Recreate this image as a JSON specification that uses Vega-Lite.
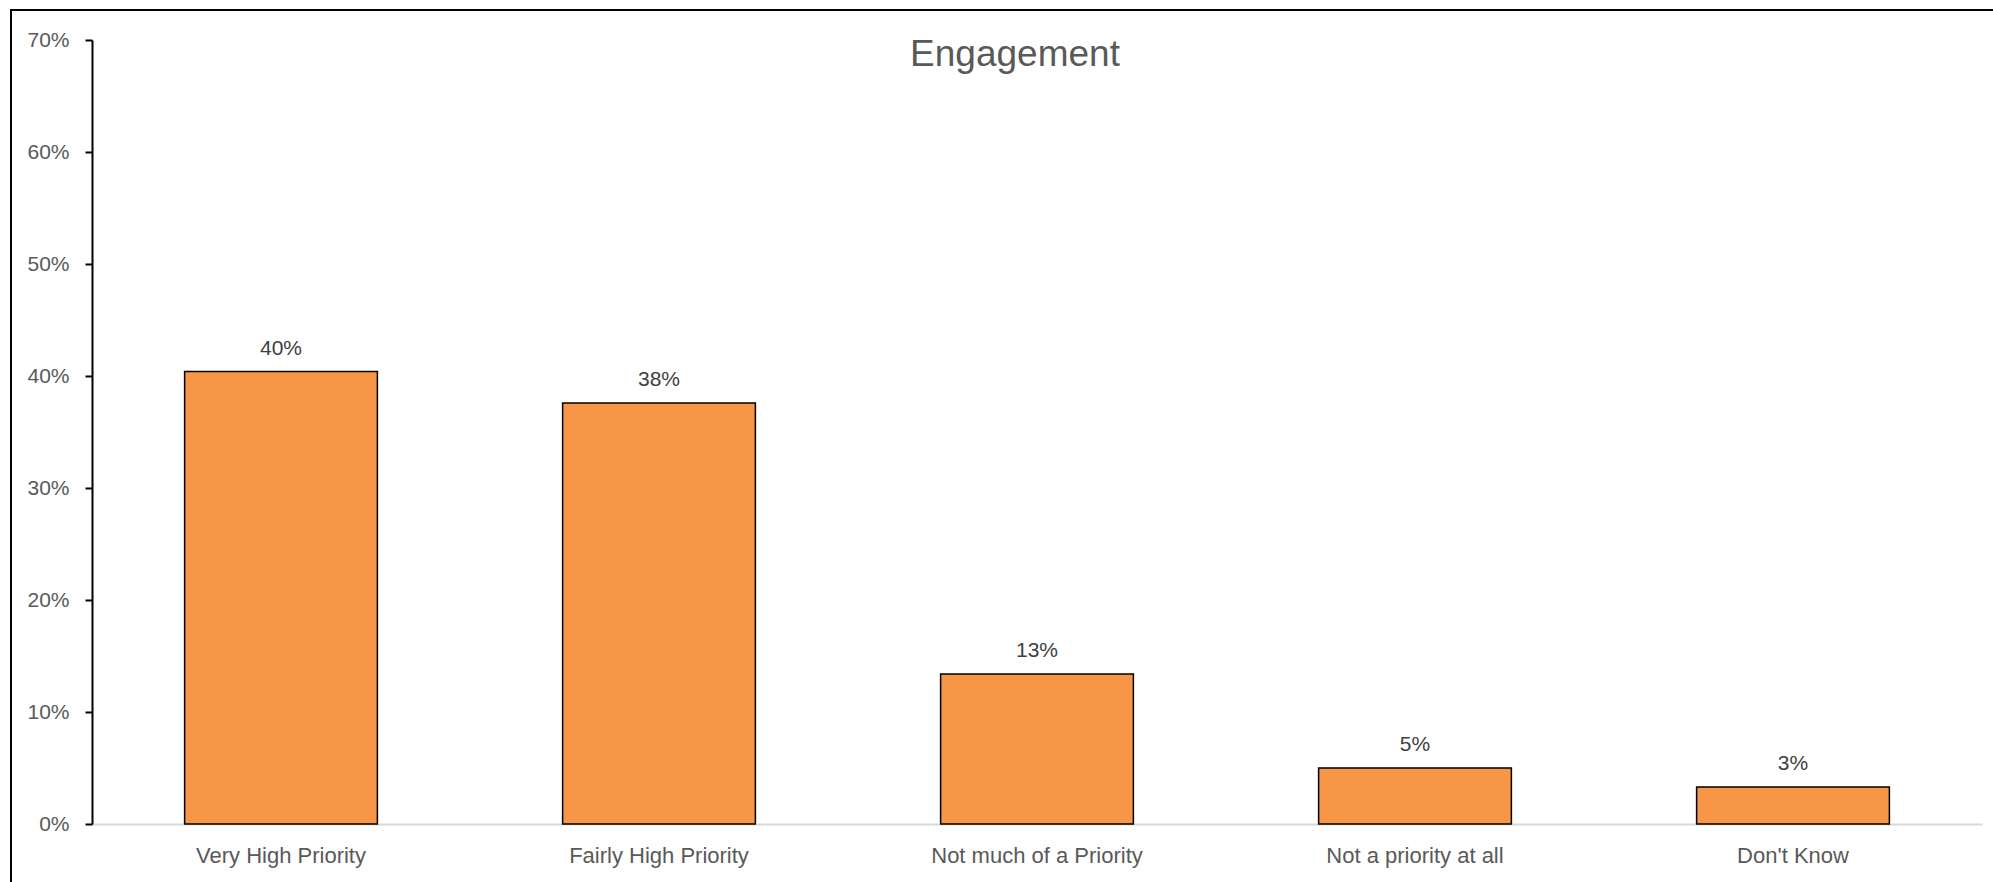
{
  "$schema": "https://vega.github.io/schema/vega-lite/v6.json",
  "autosize": "none",
  "padding": {"left": 11, "top": 10, "right": 0, "bottom": 0},
  "width": 1984,
  "height": 874,
  "background": "white",
  "config": {
    "view": {"stroke": "black", "strokeWidth": 2},
    "font": "Liberation Sans"
  },
  "title": {
    "text": "Engagement",
    "fontSize": 37,
    "font": "Liberation Sans",
    "fontWeight": "normal",
    "color": "#595959",
    "anchor": "middle",
    "frame": "group",
    "offset": -64,
    "dx": 12
  },
  "data": {
    "values": [
      {"category": "Very High Priority", "value": 0.404},
      {"category": "Fairly High Priority", "value": 0.376},
      {"category": "Not much of a Priority", "value": 0.134},
      {"category": "Not a priority at all", "value": 0.050},
      {"category": "Don't Know", "value": 0.033}
    ]
  },
  "encoding": {
    "x": {
      "field": "category",
      "type": "nominal",
      "sort": null,
      "scale": {"range": [81, 1971], "paddingInner": 0.49, "paddingOuter": 0.245},
      "axis": {
        "title": null,
        "orient": "bottom",
        "offset": -60,
        "labelAngle": 0,
        "ticks": false,
        "domainColor": "#d9d9d9",
        "domainWidth": 2,
        "labelFont": "Liberation Sans",
        "labelFontSize": 22,
        "labelColor": "#595959",
        "labelPadding": 21,
        "labelLimit": 0
      }
    },
    "y": {
      "field": "value",
      "type": "quantitative",
      "scale": {"domain": [0, 0.7], "range": [814, 30], "nice": false, "zero": true},
      "axis": {
        "title": null,
        "orient": "left",
        "offset": -81,
        "values": [0, 0.1, 0.2, 0.3, 0.4, 0.5, 0.6, 0.7],
        "format": ".0%",
        "grid": false,
        "domainColor": "black",
        "domainWidth": 2,
        "tickColor": "black",
        "tickWidth": 2,
        "tickSize": 7,
        "labelFont": "Liberation Sans",
        "labelFontSize": 21,
        "labelColor": "#595959",
        "labelPadding": 16
      }
    }
  },
  "layer": [
    {
      "mark": {"type": "bar", "color": "#f79646", "stroke": "black", "strokeWidth": 1.5}
    },
    {
      "mark": {"type": "text", "baseline": "alphabetic", "dy": -17, "fontSize": 21, "color": "#404040", "font": "Liberation Sans"},
      "encoding": {
        "text": {"field": "value", "type": "quantitative", "format": ".0%"}
      }
    }
  ]
}
